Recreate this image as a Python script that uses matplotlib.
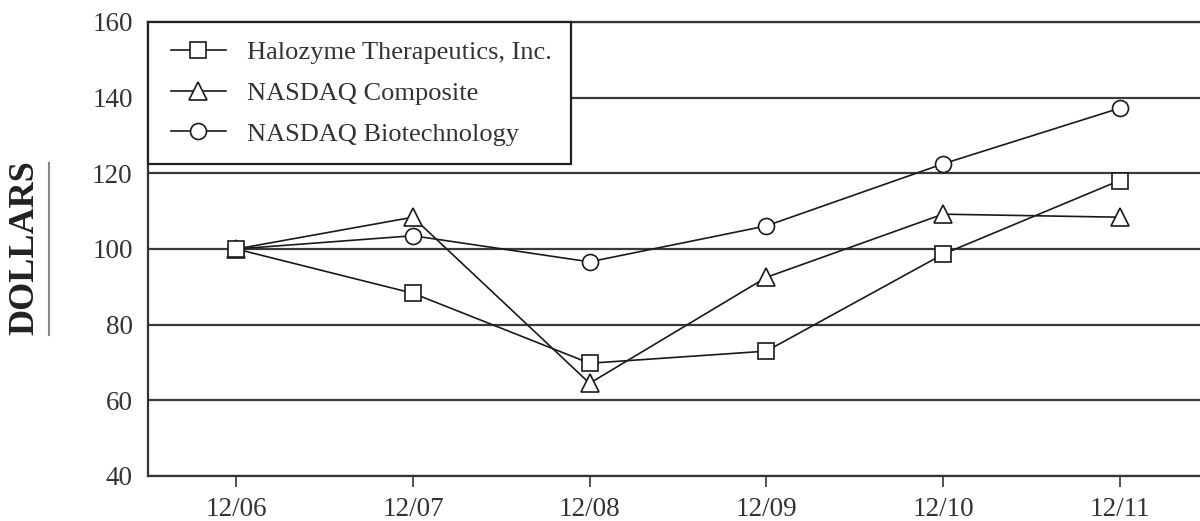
import matplotlib
matplotlib.use("Agg")
import matplotlib.pyplot as plt
from matplotlib.lines import Line2D
from matplotlib.legend_handler import HandlerLine2D

plt.rcParams['font.family'] = ['Liberation Serif', 'DejaVu Serif']

periods = ['12/06', '12/07', '12/08', '12/09', '12/10', '12/11']
halozyme = [100, 88.3, 69.8, 73.0, 98.6, 118.1]
nasdaq_comp = [100, 108.4, 64.5, 92.5, 109.2, 108.4]
nasdaq_bio = [100, 103.5, 96.6, 106.1, 122.5, 137.2]
yticks = [40, 60, 80, 100, 120, 140, 160]

fig = plt.figure(figsize=(12, 5.21), dpi=100)
ax = fig.add_axes([0.1233, 0.0864, 0.8833, 0.8714])

x = list(range(len(periods)))
mstyle = dict(color='#1a1a1a', lw=1.2, markersize=11.5, markerfacecolor='white',
              markeredgecolor='#1a1a1a', markeredgewidth=1.2)
ax.plot(x, nasdaq_bio, marker='o', label='NASDAQ Biotechnology', zorder=3, **mstyle)
ax.plot(x, nasdaq_comp, marker='^', label='NASDAQ Composite', zorder=4,
        **{**mstyle, 'markersize': 13})
ax.plot(x, halozyme, marker='s', label='Halozyme Therapeutics, Inc.', zorder=5, **mstyle)

ax.set_xlim(-0.5, 5.5)
ax.set_ylim(40, 160)
ax.set_yticks(yticks)
ax.set_xticks(x)
ax.set_xticklabels(periods)
ax.yaxis.grid(True, color='#3a3a3a', lw=1.6)
ax.set_axisbelow(True)
ax.spines['right'].set_visible(False)
for s in ['left', 'bottom', 'top']:
    ax.spines[s].set_color('#333333')
    ax.spines[s].set_linewidth(1.6)
ax.tick_params(axis='y', length=0, pad=11, labelsize=19.5, labelcolor='#333333')
ax.tick_params(axis='x', length=8, width=1.2, color='#333333', pad=7,
               labelsize=19.5, labelcolor='#333333')

handles, labels = ax.get_legend_handles_labels()
leg = ax.legend(handles[::-1], labels[::-1], loc='upper left', bbox_to_anchor=(0, 1),
                borderaxespad=0, fancybox=False, framealpha=1, edgecolor='#222222',
                fontsize=19, handlelength=2.25, handletextpad=0.82, labelspacing=0.66,
                borderpad=0.7, labelcolor='#333333',
                handler_map={Line2D: HandlerLine2D(xpad=0.17)})
leg.get_frame().set_linewidth(1.6)
leg.set_zorder(10)

fig.text(0.021, 0.524, 'DOLLARS', rotation=90, fontsize=26, fontweight='bold',
         ha='center', va='center', color='#222222')
fig.add_artist(Line2D([0.041, 0.041], [0.357, 0.687], color='#888888', lw=1.5,
                      transform=fig.transFigure))

fig.savefig('out.png', dpi=100)
